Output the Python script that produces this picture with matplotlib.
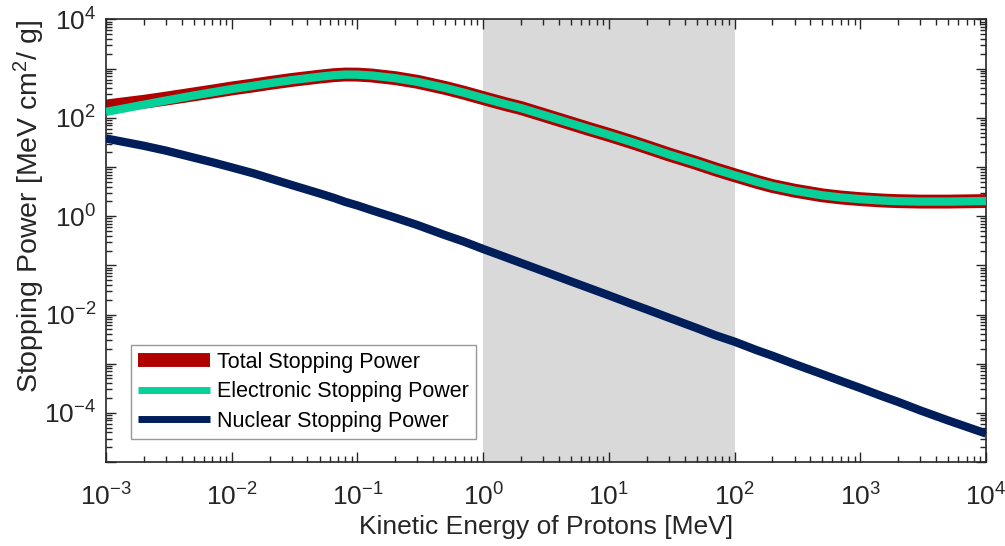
import matplotlib
matplotlib.use("Agg")
import matplotlib.pyplot as plt
import numpy as np
from matplotlib.ticker import LogLocator, NullFormatter, FuncFormatter

plt.rcParams["font.family"] = ["Liberation Sans", "DejaVu Sans"]
plt.rcParams["mathtext.fontset"] = "custom"
plt.rcParams["mathtext.rm"] = "Liberation Sans"
plt.rcParams["mathtext.it"] = "Liberation Sans:italic"
plt.rcParams["mathtext.bf"] = "Liberation Sans:bold"
plt.rcParams["axes.unicode_minus"] = False

# ----- data (MeV, MeV cm^2/g) -----
energy = [1e-3, 2e-3, 3e-3, 5e-3, 7e-3, 1e-2, 1.5e-2, 2e-2, 3e-2, 5e-2,
          6.5e-2, 8e-2, 0.1, 0.13, 0.2, 0.3, 0.5, 0.7, 1, 1.5,
          2, 3, 5, 7, 10, 15, 20, 30, 50, 70,
          100, 150, 200, 300, 500, 700, 1000, 1500, 2000, 3000,
          5000, 1e4]

total = [170, 212, 246, 300, 342, 395, 457, 511, 589, 688,
         737, 760, 757, 726, 641, 541, 405, 325, 252, 190,
         158, 115, 77, 59, 45, 32.5, 25.5, 18, 12, 9.0,
         6.8, 5.0, 4.1, 3.3, 2.65, 2.4, 2.22, 2.08, 2.02, 1.98,
         1.98, 2.03]

electronic = [132, 185, 225, 285, 330, 385, 450, 505, 585, 685,
              735, 758, 755, 725, 640, 540, 405, 325, 252, 190,
              158, 115, 77, 59, 45, 32.5, 25.5, 18, 12, 9.0,
              6.8, 5.0, 4.1, 3.3, 2.65, 2.4, 2.22, 2.08, 2.02, 1.98,
              1.98, 2.03]

nuclear = [38, 27, 21.5, 15.5, 12.5, 9.8, 7.4, 5.9, 4.3, 2.9,
           2.35, 1.95, 1.65, 1.32, 0.93, 0.66, 0.41, 0.305, 0.215, 0.147,
           0.112, 0.0765, 0.047, 0.0343, 0.0245, 0.0166, 0.0127, 0.0086, 0.0053, 0.0038,
           0.0028, 0.00188, 0.00145, 9.8e-4, 6.1e-4, 4.45e-4, 3.2e-4, 2.17e-4, 1.67e-4, 1.12e-4,
           7.0e-5, 3.8e-5]

shade_range = (1, 100)

RED = "#B00000"
TEAL = "#06D198"
NAVY = "#001E5A"
AXC = "#262626"


def pow_label(step):
    # nur jede step-te Dekade beschriften
    def fmt(v, pos):
        k = int(round(np.log10(v)))
        if k % step:
            return ""
        return r"$\mathregular{10^{%d}}$" % k
    return fmt


fig = plt.figure(figsize=(10.05, 5.46), dpi=100)
ax = fig.add_axes([0.1055, 0.1538, 0.8756, 0.8105])

ax.axvspan(*shade_range, color="#D9D9D9", lw=0, zorder=0)
ax.plot(energy, total, color=RED, lw=10, solid_capstyle="butt",
        label="Total Stopping Power", zorder=2)
ax.plot(energy, electronic, color=TEAL, lw=6, solid_capstyle="butt",
        label="Electronic Stopping Power", zorder=3)
ax.plot(energy, nuclear, color=NAVY, lw=6, solid_capstyle="butt",
        label="Nuclear Stopping Power", zorder=3)

ax.set_xscale("log")
ax.set_yscale("log")
ax.set_xlim(1e-3, 1e4)
ax.set_ylim(1e-5, 1e4)

for axis in (ax.xaxis, ax.yaxis):
    axis.set_major_locator(LogLocator(base=10, numticks=20))
    axis.set_minor_locator(LogLocator(base=10, subs=range(2, 10), numticks=20))
    axis.set_minor_formatter(NullFormatter())
ax.xaxis.set_major_formatter(FuncFormatter(pow_label(1)))
ax.yaxis.set_major_formatter(FuncFormatter(pow_label(2)))

ax.tick_params(which="both", direction="in", top=True, right=True,
               color=AXC, labelcolor=AXC, labelsize=19, width=1)
ax.tick_params(which="major", length=7)
ax.tick_params(which="minor", length=4)
ax.tick_params(axis="x", which="major", pad=15.5)
ax.tick_params(axis="y", which="major", pad=7)
for s in ax.spines.values():
    s.set_color(AXC)
    s.set_linewidth(1.2)

ax.set_xlabel("Kinetic Energy of Protons [MeV]", fontsize=19, color=AXC, labelpad=3)
ax.set_ylabel("Stopping Power [MeV cm$^2$/ g]", fontsize=20.5, color=AXC)
ax.yaxis.set_label_coords(-0.067, 0.578)

leg = ax.legend(loc="lower left", bbox_to_anchor=(0.0284, 0.052), borderaxespad=0,
                fontsize=15.5, frameon=True, fancybox=False, edgecolor="#7F7F7F",
                handlelength=3.35, handletextpad=0.3, borderpad=0.33,
                labelspacing=0.4)
leg.get_frame().set_linewidth(1)
leg.legend_handles[1].set_linewidth(5)
leg.legend_handles[2].set_linewidth(5)

plt.savefig("out.png", dpi=100)
